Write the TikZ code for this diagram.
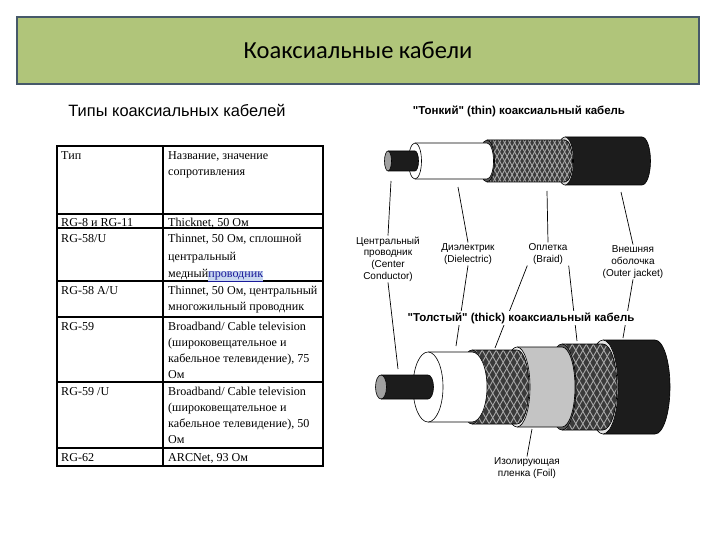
\documentclass[tikz,border=0pt]{standalone}
\usepackage{fontspec}
\setmainfont{Liberation Serif}
\newfontfamily\sansf{Liberation Sans}
\newfontfamily\calf{Carlito}
\definecolor{barfill}{HTML}{B0C57A}
\definecolor{barline}{HTML}{46596A}
\definecolor{linkblue}{HTML}{1A1A9A}
\definecolor{linkbg}{HTML}{C8D8F0}
\definecolor{jacketc}{HTML}{1C1C1C}
\definecolor{braidbg}{HTML}{3A3A3A}
\definecolor{braidln}{HTML}{A8A8A8}
\definecolor{foilc}{HTML}{C4C4C4}
\definecolor{condface}{HTML}{A0A0A0}
\tikzset{
  tline/.style={line width=1.6pt, line cap=rect},
  cell/.style={anchor=base west, inner sep=0pt, font=\fontsize{12.1}{16}\selectfont},
  lbl/.style={align=center, inner sep=1pt, font=\sansf\fontsize{10}{11.7}\selectfont},
  leader/.style={line width=0.7pt},
  outl/.style={draw=black, line width=0.6pt},
}
\newcommand\cylbody[6]{%
  \fill[#6] (#1,#3-#4) -- (#2,#3-#4) arc[start angle=90,end angle=-90,x radius=#5pt,y radius=#4pt] -- (#1,#3+#4) -- cycle;
  \draw[outl] (#1,#3-#4) -- (#2,#3-#4) arc[start angle=90,end angle=-90,x radius=#5pt,y radius=#4pt] -- (#1,#3+#4);
}
\newcommand\cylface[5]{%
  \filldraw[fill=#5,outl] (#1,#2) ellipse[x radius=#4pt,y radius=#3pt];
}
\newcommand\braidbody[6]{%
  \begin{scope}
    \clip (#1,#3-#4) -- (#2,#3-#4) arc[start angle=90,end angle=-90,x radius=#5pt,y radius=#4pt] -- (#1,#3+#4) -- cycle;
    \fill[braidbg] (#1-60,#3-#4-2) rectangle (#2+#5+2,#3+#4+2);
    \foreach \i [evaluate=\i as \k using \i*#6-110] in {0,...,60} {
      \draw[braidln, line width=0.9pt] (#1+\k,#3-#4-2) -- ++(1.2*#4,2*#4+4);
      \draw[braidln, line width=0.9pt] (#1+\k,#3+#4+2) -- ++(1.2*#4,-2*#4-4);
    }
  \end{scope}
  \draw[outl] (#1,#3-#4) -- (#2,#3-#4) arc[start angle=90,end angle=-90,x radius=#5pt,y radius=#4pt] -- (#1,#3+#4);
}
\begin{document}
\begin{tikzpicture}[x=1pt,y=-1pt]
\useasboundingbox (0,0) rectangle (720,540);
\fill[white] (0,0) rectangle (720,540);

% title bar
\node[draw=barline, line width=2pt, fill=barfill, minimum width=682pt, minimum height=67pt,
      anchor=north west, font=\calf\fontsize{24.5}{28}\selectfont] (title) at (16,16) {Коаксиальные кабели};

\node[font=\sansf\fontsize{16.4}{19}\selectfont] (sub) at (177,110) {Типы коаксиальных кабелей};

% table grid
\draw[tline] (57,146) rectangle (323,466);
\draw[tline] (163,146) -- (163,466);
\draw[line width=2.4pt] (57,214) -- (323,214);
\foreach \yy in {228,281,317,382,448} { \draw[tline] (57,\yy) -- (323,\yy); }

% table text col 1
\node[cell] (a1) at (61,160) {Тип};
\node[cell] (a2) at (61,226) {RG-8 и RG-11};
\node[cell] (a3) at (61,242) {RG-58/U};
\node[cell] (a4) at (61,294) {RG-58 A/U};
\node[cell] (a5) at (61,330) {RG-59};
\node[cell] (a6) at (61,395) {RG-59 /U};
\node[cell] (a7) at (61,461) {RG-62};
% col 2
\node[cell] (b1) at (168,160) {Название, значение};
\node[cell] (b2) at (168,176) {сопротивления};
\node[cell] (b3) at (168,226) {Thicknet, 50 Ом};
\node[cell] (b4) at (168,242) {Thinnet, 50 Ом, сплошной};
\node[cell] (b5) at (168,260) {центральный};
\node[cell] (b6) at (168,277) {медный{\color{linkblue}\setlength{\fboxsep}{0pt}\colorbox{linkbg}{\underline{проводник}}}};
\node[cell] (b7) at (168,294) {Thinnet, 50 Ом, центральный};
\node[cell] (b8) at (168,310) {многожильный проводник};
\node[cell] (b9) at (168,330) {Broadband/ Cable television};
\node[cell] (b10) at (168,346) {(широковещательное и};
\node[cell] (b11) at (168,362) {кабельное телевидение), 75};
\node[cell] (b12) at (168,378) {Ом};
\node[cell] (b13) at (168,395) {Broadband/ Cable television};
\node[cell] (b14) at (168,411) {(широковещательное и};
\node[cell] (b15) at (168,427) {кабельное телевидение), 50};
\node[cell] (b16) at (168,443) {Ом};
\node[cell] (b17) at (168,461) {ARCNet, 93 Ом};

% thin cable
\node[font=\sansf\bfseries\fontsize{11.5}{13}\selectfont] (thintitle) at (519,111) {"Тонкий" (thin) коаксиальный кабель};
\cylbody{565}{642}{161}{24}{8.5}{jacketc}
\cylface{565}{161}{24}{8.5}{gray!30}
\braidbody{487}{565}{161}{21}{7.5}{5}
\cylface{487}{161}{21}{7.5}{gray!70!black}
\cylbody{415}{487}{161}{18}{6.5}{white}
\cylface{415}{161}{18}{6.5}{white}
\cylbody{388}{415}{161}{10}{3.5}{jacketc}
\cylface{388}{161}{10}{3.5}{condface}

% thick cable
\cylbody{603}{655}{387}{47}{15}{jacketc}
\cylface{603}{387}{47}{15}{gray!20}
\braidbody{562}{603}{387}{43}{14}{7}
\cylface{562}{387}{43}{14}{gray!70!black}
\cylbody{517}{562}{387}{40}{13}{foilc}
\cylface{517}{387}{40}{13}{gray!15}
\braidbody{472}{517}{387}{37}{12}{7}
\cylface{472}{387}{37}{12}{gray!70!black}
\cylbody{428}{472}{387}{35}{15}{white}
\cylface{428}{387}{35}{15}{white}
\cylbody{381}{428}{387}{12}{5.5}{jacketc}
\cylface{381}{387}{12}{5.5}{condface}

% labels
\node[lbl] (lcc) at (388,259) {Центральный\\проводник\\(Center\\Conductor)};
\node[lbl] (ldi) at (468,254) {Диэлектрик\\(Dielectric)};
\node[lbl] (lbr) at (548,254) {Оплетка\\(Braid)};
\node[lbl] (loj) at (633,262) {Внешняя\\оболочка\\(Outer jacket)};
\node[lbl] (lfo) at (527,468) {Изолирующая\\пленка (Foil)};

\coordinate (pcc) at (391,181);
\coordinate (pdi) at (458,187);
\coordinate (pbr) at (547,191);
\coordinate (poj) at (621,192);
\coordinate (qcc) at (398,369);
\coordinate (qdi) at (456,346);
\coordinate (qb1) at (495,348);
\coordinate (qb2) at (577,341);
\coordinate (qoj) at (623,338);
\coordinate (qfo) at (532,429);

\draw[leader] (pcc) -- (lcc.north);
\draw[leader] (pdi) -- (ldi.north);
\draw[leader] (pbr) -- (lbr.north);
\draw[leader] (poj) -- (loj.north);
\draw[leader] (lcc.south) -- (qcc);
\draw[leader] (ldi.south) -- (qdi);
\draw[leader] (lbr.south west) -- (qb1);
\draw[leader] (lbr.south east) -- (qb2);
\draw[leader] (loj.south) -- (qoj);
\draw[leader] (qfo) -- (lfo.north);

\node[fill=white, inner sep=1.5pt, font=\sansf\bfseries\fontsize{11.5}{13}\selectfont] (thicktitle) at (521,318) {"Толстый" (thick) коаксиальный кабель};
\end{tikzpicture}
\end{document}
